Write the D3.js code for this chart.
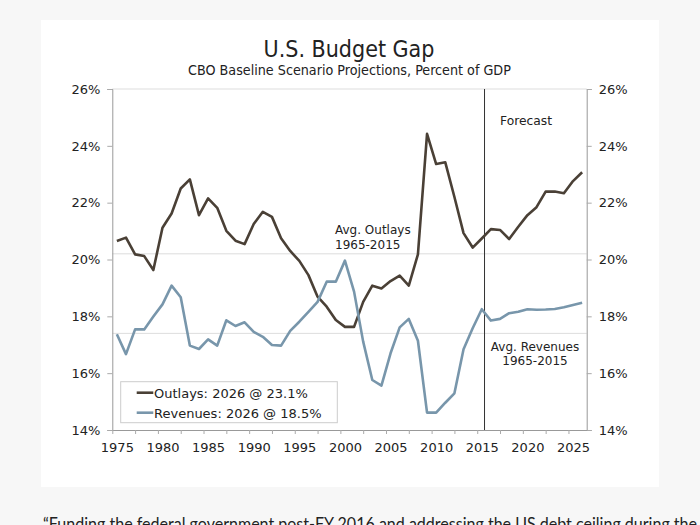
<!DOCTYPE html>
<html>
<head>
<meta charset="utf-8">
<script src="https://cdn.jsdelivr.net/npm/d3@7/dist/d3.min.js"></script>
<style>
  html, body { margin: 0; padding: 0; background: #f7f7f7; }
  svg { display: block; }
  text { font-family: 'DejaVu Sans', Verdana, sans-serif; fill: #222; }
  .cond { font-family: 'DejaVu Sans Condensed', 'DejaVu Sans', sans-serif; font-stretch: condensed; }
</style>
</head>
<body>
<svg id="chart" width="700" height="525"></svg>
<script>
const years = d3.range(1975, 2027);
const outlays = [20.65, 20.77, 20.18, 20.12, 19.63, 21.12, 21.62, 22.5, 22.82, 21.56,
  22.15, 21.82, 21.01, 20.66, 20.54, 21.25, 21.68, 21.5, 20.75, 20.3,
  19.95, 19.45, 18.69, 18.34, 17.87, 17.63, 17.63, 18.51, 19.08, 18.98,
  19.24, 19.43, 19.08, 20.18, 24.42, 23.36, 23.42, 22.2, 20.93, 20.42,
  20.74, 21.07, 21.04, 20.72, 21.15, 21.56, 21.84, 22.39, 22.39, 22.33,
  22.76, 23.07];
const revenues = [17.37, 16.67, 17.54, 17.54, 17.99, 18.42, 19.08, 18.67, 16.97, 16.85,
  17.19, 16.97, 17.86, 17.66, 17.79, 17.45, 17.28, 16.99, 16.97, 17.49,
  17.81, 18.16, 18.51, 19.22, 19.22, 19.96, 18.87, 17.11, 15.76, 15.56,
  16.7, 17.61, 17.91, 17.14, 14.61, 14.61, 14.96, 15.29, 16.84, 17.58,
  18.25, 17.85, 17.91, 18.11, 18.16, 18.25, 18.23, 18.24, 18.26, 18.32,
  18.4, 18.48];
const yTicks = [14, 16, 18, 20, 22, 24, 26];
const xLabels = [1975, 1980, 1985, 1990, 1995, 2000, 2005, 2010, 2015, 2020, 2025];
const avgOutlays = 20.2;
const avgRevenues = 17.4;
const forecastStart = 2015.3;
const seriesNames = ["Outlays: 2026 @ 23.1%", "Revenues: 2026 @ 18.5%"];
const seriesColors = ["#4a4036", "#7896ab"];

const svg = d3.select("#chart");
const L = 112.3, R = 586.7, T = 89, B = 430;

// card
svg.append("rect").attr("x", 41).attr("y", 20).attr("width", 618).attr("height", 467).attr("fill", "#fff");

const x = d3.scaleLinear().domain([1974.5, 2026.5]).range([L, R]);
const y = d3.scaleLinear().domain([14, 26]).range([B, T]);

// title
svg.append("text").attr("class", "cond").attr("x", 349).attr("y", 57)
  .attr("text-anchor", "middle").style("font-size", "23px").text("U.S. Budget Gap");
svg.append("text").attr("class", "cond").attr("x", 349.5).attr("y", 75)
  .attr("text-anchor", "middle").style("font-size", "14.2px").text("CBO Baseline Scenario Projections, Percent of GDP");

// top border line
svg.append("line").attr("x1", L).attr("x2", R).attr("y1", T).attr("y2", T)
  .attr("stroke", "#ddd").attr("stroke-width", 1);

// average lines
[avgOutlays, avgRevenues].forEach(v => {
  svg.append("line").attr("x1", L).attr("x2", R).attr("y1", y(v)).attr("y2", y(v))
    .attr("stroke", "#ddd").attr("stroke-width", 1);
});

// axes
const leftAxis = d3.axisLeft(y).tickValues(yTicks).tickFormat(d => d + "%").tickSize(5).tickPadding(7);
const rightAxis = d3.axisRight(y).tickValues(yTicks).tickFormat(d => d + "%").tickSize(5).tickPadding(7);
const gL = svg.append("g").attr("transform", `translate(${L},0)`).call(leftAxis);
const gR = svg.append("g").attr("transform", `translate(${R},0)`).call(rightAxis);
const tickYears = d3.range(1974.5, 2026.5, 2.5);
const bottomAxis = d3.axisBottom(x).tickValues(tickYears).tickFormat("").tickSize(4).tickSizeOuter(0);
const gB = svg.append("g").attr("transform", `translate(0,${B})`).call(bottomAxis);
[gL, gR, gB].forEach(g => {
  g.select(".domain").attr("stroke", "#999");
  g.selectAll(".tick line").attr("stroke", "#aaa");
  g.selectAll(".tick text").style("font-size", "13px").attr("fill", "#222")
    .style("font-family", "'DejaVu Sans', sans-serif");
});
gB.selectAll(".tick text").remove();
const labelAxis = d3.axisBottom(x).tickValues(xLabels).tickFormat(d3.format("d")).tickSize(0).tickPadding(13);
const gX = svg.append("g").attr("transform", `translate(0,${B})`).call(labelAxis);
gX.select(".domain").remove();
gX.selectAll(".tick text").style("font-size", "13px").attr("fill", "#222")
  .style("font-family", "'DejaVu Sans', sans-serif");

// forecast line
svg.append("line").attr("x1", x(forecastStart)).attr("x2", x(forecastStart)).attr("y1", T).attr("y2", B)
  .attr("stroke", "#333").attr("stroke-width", 1);

// series
const line = d3.line().x((d, i) => x(years[i])).y(d => y(d));
[outlays, revenues].forEach((s, k) => {
  svg.append("path").datum(s).attr("d", line).attr("fill", "none")
    .attr("stroke", seriesColors[k]).attr("stroke-width", 2.6).attr("stroke-linejoin", "round");
});

// annotations
const ann = svg.append("g").style("font-size", "12px");
ann.append("text").attr("x", 500).attr("y", 125).style("font-size", "12.3px").text("Forecast");
ann.append("text").attr("x", 335).attr("y", 234).text("Avg. Outlays");
ann.append("text").attr("x", 335).attr("y", 249).text("1965-2015");
ann.append("text").attr("x", 535).attr("y", 351).attr("text-anchor", "middle").text("Avg. Revenues");
ann.append("text").attr("x", 535).attr("y", 365).attr("text-anchor", "middle").text("1965-2015");

// legend
const lg = svg.append("g");
lg.append("rect").attr("x", 120.7).attr("y", 381.7).attr("width", 216.6).attr("height", 41)
  .attr("fill", "#fff").attr("stroke", "#ccc").attr("stroke-width", 1);
seriesNames.forEach((n, k) => {
  const cy = 392.7 + k * 20;
  lg.append("line").attr("x1", 136.7).attr("x2", 153.3).attr("y1", cy).attr("y2", cy)
    .attr("stroke", seriesColors[k]).attr("stroke-width", 2.6);
  lg.append("text").attr("x", 154).attr("y", cy + 4.8).style("font-size", "13px").text(n);
});

// page text below card (cut by the bottom edge, as in the reference)
svg.append("text").attr("x", 43).attr("y", 530)
  .style("font-family", "Lato, 'Open Sans', sans-serif").style("font-size", "17px").attr("fill", "#222")
  .attr("textLength", 654).attr("lengthAdjust", "spacingAndGlyphs")
  .text("\u201cFunding the federal government post-FY 2016 and addressing the US debt ceiling during the");
</script>
</body>
</html>
